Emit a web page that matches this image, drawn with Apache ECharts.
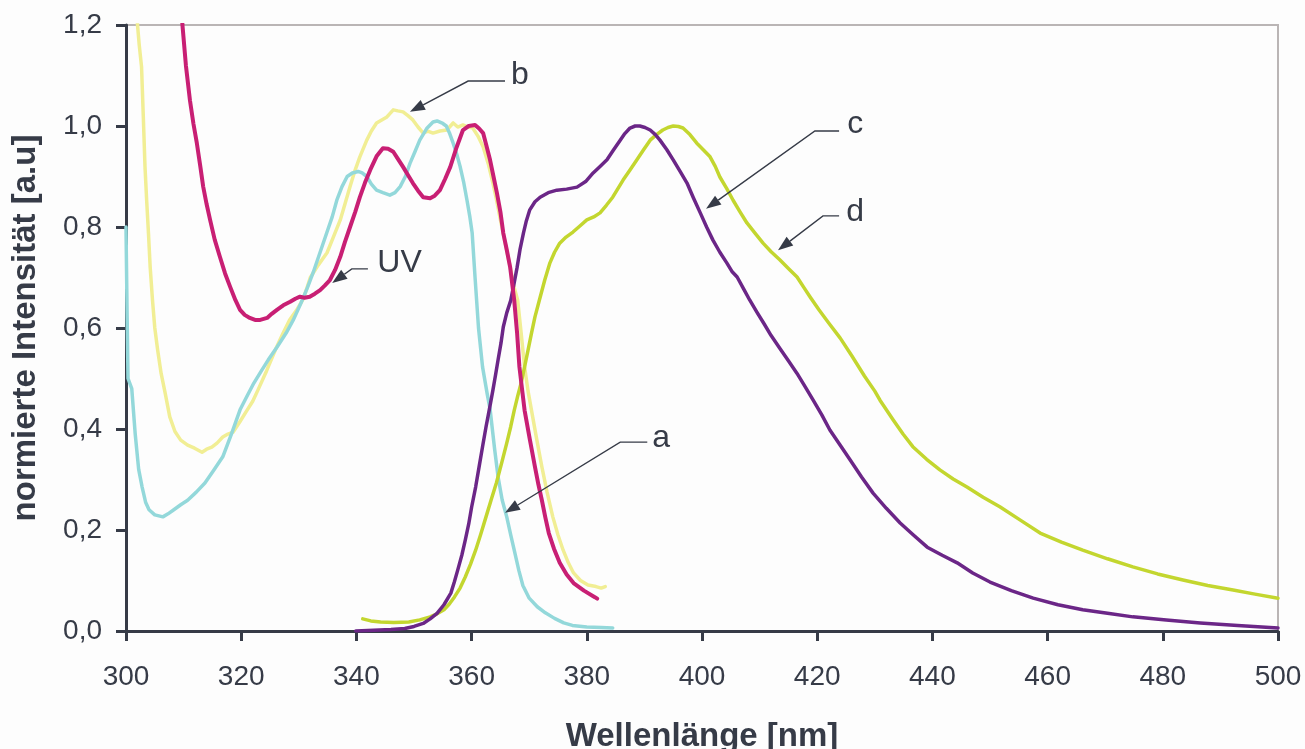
<!DOCTYPE html>
<html>
<head>
<meta charset="utf-8">
<script src="https://cdn.jsdelivr.net/npm/echarts@6/dist/echarts.min.js"></script>
<style>
  html, body { margin: 0; padding: 0; background: #fdfdfd; }
  #chart { width: 1305px; height: 749px; }
</style>
</head>
<body>
<div id="chart"></div>
<script>
// Axis ticks
const xTicks = { min: 300, max: 500, step: 20 };
const yTicks = { min: 0, max: 1.2, step: 0.2 };

// Spectra: [wavelength nm, normalised intensity]
const curveA = [
  [300.0,0.80],[300.2,0.62],[300.35,0.50],[301.0,0.48],[301.6,0.39],[302.2,0.32],[302.8,0.285],[303.4,0.255],
  [304.0,0.240],[305.0,0.230],[306.4,0.226],[307.3,0.232],[308.3,0.240],[309.5,0.250],[310.7,0.259],[312.2,0.275],
  [313.7,0.293],[315.2,0.318],[316.8,0.345],[318.3,0.39],[319.8,0.438],[321.0,0.465],[322.2,0.491],[323.5,0.515],
  [324.7,0.537],[326.2,0.562],[327.8,0.59],[329.0,0.615],[330.4,0.650],[331.5,0.680],[332.5,0.71],[333.7,0.75],
  [334.9,0.79],[335.8,0.82],[336.6,0.853],[337.5,0.88],[338.4,0.90],[339.3,0.907],[340.3,0.91],[341.0,0.907],
  [341.8,0.90],[342.6,0.885],[343.5,0.873],[344.6,0.868],[345.8,0.863],[346.7,0.868],[347.6,0.88],[348.5,0.90],
  [349.3,0.926],[350.2,0.95],[351.0,0.972],[352.2,0.995],[353.3,1.008],[354.0,1.01],[355.0,1.005],[355.6,1.0],
  [356.2,0.985],[356.8,0.966],[357.4,0.945],[358.0,0.92],[358.6,0.89],[359.2,0.853],[359.7,0.82],[360.1,0.788],
  [360.6,0.70],[361.2,0.60],[361.9,0.523],[362.7,0.47],[363.2,0.44],[364.0,0.36],[364.6,0.305],[365.3,0.26],
  [366.1,0.226],[366.8,0.19],[367.4,0.16],[368.2,0.12],[368.9,0.09],[370.0,0.065],[371.4,0.048],[372.8,0.036],
  [374.4,0.025],[376.0,0.016],[377.5,0.011],[380.0,0.008],[382.5,0.007],[384.5,0.006]
];
const curveB = [
  [301.8,1.24],[302.0,1.20],[302.3,1.16],[302.7,1.117],[303.0,1.02],[303.3,0.919],[303.6,0.85],[303.9,0.788],
  [304.2,0.72],[304.6,0.655],[305.0,0.60],[305.5,0.556],[306.1,0.51],[306.8,0.471],[307.6,0.424],[308.5,0.395],
  [309.5,0.378],[310.7,0.368],[311.9,0.362],[313.2,0.354],[314.0,0.36],[314.9,0.364],[315.8,0.372],[316.8,0.384],
  [317.7,0.39],[318.6,0.394],[319.8,0.415],[321.0,0.437],[322.0,0.455],[322.9,0.477],[324.4,0.515],[325.9,0.556],
  [327.2,0.588],[328.4,0.616],[329.6,0.635],[330.8,0.658],[332.0,0.70],[333.4,0.725],[334.9,0.749],[336.0,0.78],
  [337.2,0.814],[338.0,0.845],[338.9,0.88],[339.7,0.91],[340.6,0.939],[341.8,0.972],[342.6,0.99],[343.5,1.006],
  [344.4,1.012],[345.3,1.018],[346.4,1.032],[347.2,1.03],[348.1,1.028],[349.0,1.02],[349.8,1.012],[350.7,0.998],
  [351.6,0.986],[352.4,0.99],[353.3,0.986],[354.5,0.99],[355.7,0.992],[356.8,1.006],[357.6,0.998],[358.5,1.002],
  [359.4,0.998],[360.2,0.996],[361.1,0.98],[362.0,0.959],[362.9,0.925],[363.7,0.887],[364.3,0.855],[364.9,0.82],
  [365.8,0.77],[366.7,0.72],[367.4,0.68],[368.0,0.655],[368.6,0.59],[369.2,0.523],[369.8,0.475],[370.4,0.437],
  [371.3,0.38],[372.2,0.325],[373.1,0.275],[374.1,0.226],[375.0,0.19],[375.9,0.16],[376.8,0.135],[377.7,0.115],
  [378.9,0.10],[380.2,0.091],[381.6,0.088],[382.5,0.085],[383.2,0.088]
];
const curveUV = [
  [309.6,1.24],[309.8,1.2],[310.4,1.12],[311.1,1.051],[311.7,1.005],[312.3,0.966],[312.9,0.92],[313.4,0.88],
  [314.0,0.845],[314.6,0.814],[315.4,0.775],[316.3,0.741],[317.2,0.708],[318.1,0.681],[319.0,0.655],[319.8,0.636],
  [320.6,0.626],[321.5,0.62],[322.4,0.616],[323.3,0.616],[324.5,0.62],[325.3,0.628],[326.2,0.636],[327.3,0.645],
  [328.5,0.652],[329.4,0.658],[330.2,0.662],[331.0,0.66],[331.9,0.662],[332.8,0.668],[333.7,0.675],[334.5,0.684],
  [335.4,0.695],[336.3,0.715],[337.2,0.741],[338.0,0.77],[338.9,0.80],[339.8,0.83],[340.6,0.859],[341.5,0.888],
  [342.4,0.913],[343.5,0.94],[344.6,0.956],[345.5,0.955],[346.4,0.949],[347.2,0.935],[348.1,0.919],[349.0,0.902],
  [349.8,0.887],[350.7,0.872],[351.6,0.859],[352.8,0.857],[353.6,0.862],[354.5,0.873],[355.4,0.895],[356.3,0.919],
  [357.4,0.958],[358.5,0.992],[359.5,1.0],[360.6,1.002],[361.3,0.995],[362.0,0.986],[362.6,0.96],[363.2,0.933],
  [363.8,0.90],[364.4,0.867],[365.0,0.83],[365.5,0.788],[366.1,0.755],[366.7,0.72],[367.4,0.655],[367.9,0.59],
  [368.3,0.523],[368.8,0.475],[369.2,0.437],[370.1,0.38],[371.0,0.325],[371.6,0.29],[372.2,0.259],[372.8,0.225],
  [373.4,0.194],[374.3,0.163],[375.3,0.135],[376.5,0.112],[377.7,0.095],[379.5,0.08],[381.4,0.067],[381.8,0.064]
];
const curveC = [
  [339.9,0.0],[342.0,0.001],[344.0,0.002],[346.0,0.003],[348.4,0.005],[350.0,0.009],[351.6,0.015],[352.8,0.024],
  [354.0,0.035],[355.2,0.052],[356.4,0.075],[357.0,0.097],[357.6,0.121],[358.3,0.15],[358.9,0.18],[359.5,0.212],
  [360.0,0.245],[360.7,0.285],[361.3,0.325],[361.9,0.365],[362.5,0.404],[363.1,0.44],[363.7,0.477],[364.2,0.51],
  [364.6,0.537],[365.1,0.57],[365.5,0.602],[366.1,0.63],[366.8,0.655],[367.4,0.69],[367.9,0.72],[368.4,0.755],
  [369.0,0.788],[369.5,0.812],[370.1,0.834],[371.0,0.85],[371.9,0.859],[373.3,0.868],[374.8,0.873],[376.5,0.875],
  [378.3,0.879],[379.8,0.89],[381.1,0.907],[382.3,0.92],[383.5,0.933],[384.6,0.952],[385.8,0.972],[386.6,0.985],
  [387.5,0.996],[388.4,1.0],[389.2,1.0],[390.1,0.997],[391.0,0.992],[391.9,0.983],[392.7,0.972],[393.9,0.953],
  [395.0,0.933],[396.2,0.91],[397.4,0.887],[398.5,0.858],[399.7,0.828],[400.8,0.80],[401.9,0.774],[403.1,0.75],
  [404.3,0.729],[405.2,0.712],[406.1,0.701],[407.2,0.678],[408.3,0.655],[409.5,0.632],[410.8,0.608],[412.0,0.585],
  [413.5,0.56],[415.0,0.535],[416.5,0.51],[418.0,0.482],[419.3,0.457],[420.8,0.428],[422.2,0.398],[424.0,0.368],
  [425.7,0.339],[427.7,0.305],[429.7,0.273],[432.0,0.243],[434.4,0.214],[436.7,0.19],[439.1,0.166],[441.7,0.15],
  [444.3,0.135],[447.0,0.115],[450.0,0.097],[453.7,0.08],[457.5,0.065],[461.8,0.052],[466.1,0.042],[470.4,0.035],
  [474.8,0.028],[480.6,0.022],[486.5,0.016],[493.0,0.011],[500.0,0.006]
];
const curveD = [
  [341.1,0.024],[342.5,0.02],[344.2,0.018],[346.5,0.017],[349.1,0.018],[351.0,0.022],[352.8,0.028],[354.0,0.034],
  [355.2,0.042],[356.1,0.053],[357.0,0.067],[358.0,0.085],[358.9,0.107],[359.8,0.132],[360.7,0.16],[361.6,0.192],
  [362.5,0.226],[363.4,0.26],[364.3,0.293],[365.2,0.332],[366.1,0.372],[366.8,0.405],[367.4,0.437],[368.0,0.465],
  [368.6,0.491],[369.2,0.523],[369.8,0.556],[370.4,0.59],[371.0,0.622],[371.9,0.661],[372.7,0.695],[373.6,0.729],
  [374.4,0.75],[375.3,0.768],[376.4,0.78],[377.6,0.79],[378.8,0.802],[380.0,0.814],[381.2,0.82],[382.3,0.828],
  [383.4,0.843],[384.5,0.859],[385.4,0.876],[386.3,0.893],[387.5,0.913],[388.7,0.933],[389.8,0.952],[391.0,0.972],
  [392.1,0.983],[393.2,0.992],[394.1,0.997],[395.0,1.0],[395.9,0.999],[396.7,0.996],[397.9,0.983],[399.1,0.966],
  [400.3,0.952],[401.4,0.939],[402.3,0.92],[403.1,0.899],[404.3,0.876],[405.4,0.853],[406.6,0.83],[407.8,0.808],
  [409.2,0.788],[410.6,0.768],[412.0,0.751],[413.5,0.735],[415.0,0.718],[416.5,0.701],[417.7,0.68],[418.8,0.661],
  [420.3,0.636],[422.0,0.61],[424.0,0.58],[426.0,0.545],[428.2,0.505],[430.0,0.475],[430.9,0.457],[433.2,0.418],
  [434.9,0.39],[436.6,0.365],[439.0,0.34],[441.3,0.319],[443.6,0.301],[446.0,0.285],[448.8,0.265],[451.7,0.246],
  [455.2,0.22],[458.7,0.194],[462.4,0.176],[466.1,0.16],[470.4,0.143],[474.8,0.127],[479.1,0.113],[483.5,0.101],
  [487.8,0.09],[492.2,0.081],[496.0,0.073],[500.0,0.065]
];

// Callout labels: text, label centre, elbow start, elbow end, arrow tip (all in data units)
const callouts = [
  { text: 'b',  at: [368.4, 1.101], from: [365.8, 1.089], elbow: [359.4, 1.089], tip: [349.3, 1.028] },
  { text: 'UV', at: [347.5, 0.729], from: [342.0, 0.717], elbow: [339.2, 0.717], tip: [335.8, 0.689] },
  { text: 'c',  at: [426.6, 1.004], from: [423.8, 0.990], elbow: [419.6, 0.990], tip: [400.7, 0.836] },
  { text: 'd',  at: [426.6, 0.830], from: [423.8, 0.822], elbow: [421.0, 0.822], tip: [413.2, 0.754] },
  { text: 'a',  at: [392.9, 0.382], from: [390.5, 0.374], elbow: [385.8, 0.374], tip: [365.8, 0.234] }
];

const FONT = '"Liberation Sans", Arial, sans-serif';
const INK = '#363b47';

const chart = echarts.init(document.getElementById('chart'), null, { renderer: 'canvas' });

function lineSeries(name, data, color, width, z) {
  return {
    name, type: 'line', data, showSymbol: false, symbol: 'none', smooth: false,
    lineStyle: { color, width, join: 'round', cap: 'round' }, z, clip: true
  };
}

chart.setOption({
  animation: false,
  backgroundColor: '#fdfdfd',
  grid: {
    left: 126, right: 27, top: 25, bottom: 118,
    containLabel: false, outerBoundsMode: 'none',
    show: true, borderColor: '#bab5b5', borderWidth: 2, backgroundColor: 'transparent'
  },
  xAxis: {
    type: 'value', min: xTicks.min, max: xTicks.max, interval: xTicks.step,
    name: 'Wellenlänge [nm]', nameLocation: 'middle', nameGap: 89,
    nameTextStyle: { fontFamily: FONT, fontSize: 33, fontWeight: 'bold', color: INK },
    axisLine: { show: true, lineStyle: { color: INK, width: 3 } },
    axisTick: { show: true, length: 10, lineStyle: { color: INK, width: 3 } },
    axisLabel: { margin: 32, fontFamily: FONT, fontSize: 28, color: INK },
    splitLine: { show: false }
  },
  yAxis: {
    type: 'value', min: yTicks.min, max: yTicks.max, interval: yTicks.step,
    name: 'normierte Intensität [a.u]', nameLocation: 'middle', nameGap: 84, nameRotate: 90,
    nameTextStyle: { fontFamily: FONT, fontSize: 33, fontWeight: 'bold', color: INK },
    axisLine: { show: true, onZero: false, lineStyle: { color: INK, width: 3 } },
    axisTick: { show: true, length: 10, lineStyle: { color: INK, width: 3 } },
    axisLabel: {
      margin: 24, fontFamily: FONT, fontSize: 28, color: INK,
      formatter: v => v.toFixed(1).replace('.', ',')
    },
    splitLine: { show: false }
  },
  series: [
    lineSeries('b', curveB, '#f1ee94', 3.5, 2),
    lineSeries('a', curveA, '#93d8da', 3.5, 3),
    lineSeries('d', curveD, '#c3d62f', 3.5, 4),
    lineSeries('c', curveC, '#6b2687', 3.5, 5),
    lineSeries('UV', curveUV, '#c81f74', 4, 6)
  ]
});

// Callouts: leader line with filled arrowhead plus label text, placed through the axis scales
function drawCallouts() {
  const px = p => chart.convertToPixel({ gridIndex: 0 }, p);
  const graphics = [];
  callouts.forEach(c => {
    const f = px(c.from), e = px(c.elbow), t = px(c.tip), a = px(c.at);
    const dx = t[0] - e[0], dy = t[1] - e[1];
    const len = Math.hypot(dx, dy);
    const ux = dx / len, uy = dy / len;
    const headLen = 15, headHalf = 5.5;
    const bx = t[0] - ux * headLen, by = t[1] - uy * headLen;
    graphics.push({
      type: 'polyline', z: 20,
      shape: { points: [f, e, [bx, by]] },
      style: { stroke: INK, lineWidth: 1.4, fill: null }
    });
    graphics.push({
      type: 'polygon', z: 20,
      shape: { points: [t, [bx - uy * headHalf, by + ux * headHalf], [bx + uy * headHalf, by - ux * headHalf]] },
      style: { fill: INK, stroke: null }
    });
    graphics.push({
      type: 'text', z: 20, x: a[0], y: a[1],
      style: { text: c.text, font: '32px ' + FONT, fill: INK, align: 'center', verticalAlign: 'middle' }
    });
  });
  chart.setOption({ graphic: graphics });
}
drawCallouts();
</script>
</body>
</html>
